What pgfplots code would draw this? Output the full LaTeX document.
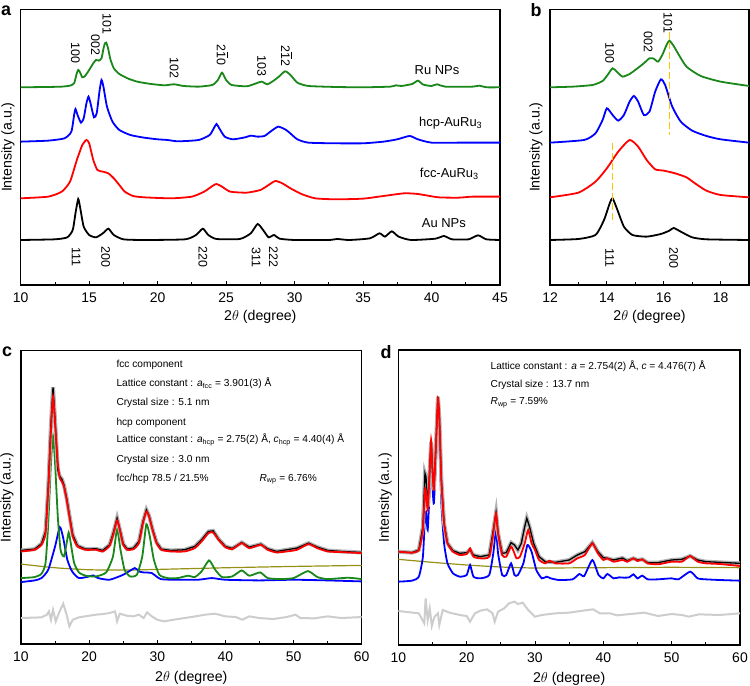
\documentclass[border=0pt]{standalone}
\usepackage{pgfplots}
\pgfplotsset{compat=1.18}
\usepackage{fontspec}
\setmainfont{Liberation Sans}
\definecolor{cgreen}{RGB}{25,135,25}
\definecolor{cblue}{RGB}{0,0,255}
\definecolor{cred}{RGB}{255,0,0}
\definecolor{colive}{RGB}{150,145,20}
\definecolor{cgold}{RGB}{255,195,0}
\definecolor{cgray}{RGB}{205,205,205}
\pgfplotsset{
  xrd/.style={scale only axis, anchor=south west,
    axis line style={line width=1.1bp},
    ytick=\empty, xtick pos=bottom, tick align=inside,
    major tick length=4bp, minor tick length=2.5bp,
    tick style={black,line width=0.8bp},
    /pgf/number format/assume math mode=true,
    ticklabel style={font=\fontsize{14}{16}\selectfont},
    xticklabel style={anchor=center, yshift=-12.5bp},
    label style={font=\fontsize{14.2}{16}\selectfont},
    xlabel={2$\theta$ (degree)}, ylabel={Intensity (a.u.)},
    xlabel style={at={(axis description cs:0.5,-0.116)}, anchor=center},
  },
  curve/.style={line width=1.8bp, smooth, tension=0.35, no marks},
}
\tikzset{
  pk/.style={rotate=-90, font=\fontsize{12.5}{14}\selectfont},
  nm/.style={font=\fontsize{13}{15}\selectfont},
  tx/.style={anchor=west, font=\fontsize{10.2}{12}\selectfont},
  lt/.style={font=\bfseries\fontsize{18}{20}\selectfont},
}
\begin{document}
\begin{tikzpicture}
\useasboundingbox (0,0) rectangle (750bp,686bp);
% ---------------- panel a
\begin{axis}[xrd, at={(20.7bp,401bp)}, width=479.3bp, height=275.7bp,
  xmin=10, xmax=45, ymin=-855, ymax=-28,
  xtick={10,15,...,45}, minor xtick={12.5,17.5,...,42.5},
  ylabel style={at={(axis description cs:-0.0265,0.5)}, anchor=center}]
\addplot[curve, cgreen] coordinates {(10,-262) (12,-261) (13,-260) (13.6,-257) (13.9,-250) (14.08,-222) (14.2,-210) (14.32,-216) (14.5,-232) (14.7,-228) (15.0,-210) (15.3,-190) (15.5,-180) (15.7,-182) (15.9,-175) (16.05,-145) (16.15,-130) (16.25,-128) (16.38,-145) (16.55,-178) (16.8,-205) (17.2,-222) (17.8,-235) (18.5,-245) (19.5,-252) (20.5,-256) (21.2,-253) (21.9,-258) (23,-260) (24,-255) (24.4,-240) (24.7,-218) (25.0,-240) (25.4,-255) (26.5,-259) (27.2,-250) (27.6,-245) (28.0,-253) (28.4,-244) (28.8,-232) (29.3,-214) (29.7,-225) (30.2,-248) (31,-258) (33,-261) (35,-262) (37,-260) (37.4,-256) (37.8,-258) (38.6,-252) (39.0,-242) (39.4,-254) (40.0,-258) (40.4,-253) (41,-260) (43,-260) (43.5,-257) (44,-262) (45,-262)};
\addplot[curve, cblue] coordinates {(10,-425) (12,-422) (13.2,-415) (13.7,-395) (13.9,-345) (14.0,-327) (14.15,-345) (14.4,-368) (14.6,-355) (14.8,-310) (14.95,-290) (15.1,-310) (15.35,-352) (15.55,-340) (15.75,-275) (15.9,-240) (16.05,-262) (16.3,-320) (16.7,-365) (17.2,-390) (18,-405) (19,-413) (20,-418) (20.7,-420) (21.5,-424) (23,-420) (23.8,-405) (24.1,-385) (24.3,-372) (24.5,-385) (24.9,-410) (25.5,-418) (26.4,-412) (26.8,-407) (27.3,-410) (27.8,-408) (28.3,-393) (28.8,-380) (29.3,-388) (29.6,-397) (30.2,-418) (31,-428) (33,-430) (35,-430) (36.5,-425) (37.5,-418) (38.4,-408) (39,-418) (40,-428) (42,-428) (45,-428)};
\addplot[curve, cred] coordinates {(10,-595) (12,-590) (13,-575) (13.6,-545) (14.1,-480) (14.5,-435) (14.8,-420) (15.0,-430) (15.3,-480) (15.6,-510) (16.0,-515) (16.4,-520) (16.8,-535) (17.2,-555) (17.6,-575) (18.2,-588) (19,-592) (21,-595) (22.5,-590) (23.4,-575) (24.0,-558) (24.3,-552) (24.7,-560) (25.3,-575) (26.5,-578) (27.5,-570) (28.1,-555) (28.6,-543) (29.1,-550) (29.7,-565) (30.5,-582) (31.5,-595) (33,-598) (35,-596) (36.5,-588) (38,-580) (39,-582) (40.5,-592) (42,-593) (43,-590) (45,-590)};
\addplot[curve, black] coordinates {(10,-720) (12.5,-718) (13.4,-712) (13.8,-690) (14.0,-640) (14.2,-597) (14.35,-625) (14.6,-680) (15.0,-705) (15.5,-712) (16.0,-700) (16.4,-686) (16.8,-705) (17.5,-718) (19,-720) (22,-718) (22.8,-705) (23.3,-686) (23.7,-705) (24.3,-717) (26,-717) (26.8,-700) (27.3,-672) (27.7,-690) (28.1,-712) (28.5,-705) (28.9,-716) (30,-720) (32.5,-720) (33.1,-717) (34,-720) (35.5,-715) (36.2,-700) (36.6,-710) (37.1,-694) (37.6,-710) (38.5,-720) (40.3,-716) (40.9,-708) (41.5,-718) (42.7,-718) (43.4,-706) (44,-718) (45,-720)};
\node[pk] at (axis cs:14.0,-160) {100};
\node[pk] at (axis cs:15.45,-135) {002};
\node[pk] at (axis cs:16.3,-72) {101};
\node[pk] at (axis cs:21.2,-205) {102};
\node[pk] at (axis cs:24.7,-165) {2$\overline{\mbox{1}}$0};
\node[pk] at (axis cs:27.6,-198) {103};
\node[pk] at (axis cs:29.4,-167) {2$\overline{\mbox{1}}$2};
\node[pk] at (axis cs:14.05,-772) {111};
\node[pk] at (axis cs:16.2,-772) {200};
\node[pk] at (axis cs:23.3,-772) {220};
\node[pk] at (axis cs:27.2,-772) {311};
\node[pk] at (axis cs:28.45,-772) {222};
\node[nm] at (axis cs:40.4,-210) {Ru NPs};
\node[nm] at (axis cs:41.4,-370) {hcp-AuRu\textsubscript{3}};
\node[nm] at (axis cs:41.3,-522) {fcc-AuRu\textsubscript{3}};
\node[nm] at (axis cs:40.9,-668) {Au NPs};
\end{axis}
% ---------------- panel b
\begin{axis}[xrd, at={(550bp,401bp)}, width=199bp, height=275.7bp,
  xmin=12, xmax=19, ymin=-855, ymax=-28,
  xtick={12,14,16,18}, minor xtick={13,15,17},
  ylabel style={at={(axis description cs:-0.07,0.5)}, anchor=center}]
\addplot[curve, cgreen] coordinates {(12,-262) (12.8,-260) (13.5,-255) (13.85,-243) (14.05,-222) (14.2,-205) (14.35,-215) (14.55,-230) (14.8,-222) (15.0,-210) (15.3,-190) (15.5,-175) (15.65,-176) (15.8,-185) (15.95,-165) (16.1,-135) (16.2,-122) (16.35,-138) (16.5,-160) (16.8,-200) (17.3,-228) (18,-245) (19,-258)};
\addplot[curve, cblue] coordinates {(12,-428) (13.2,-420) (13.6,-400) (13.85,-360) (14.0,-325) (14.2,-345) (14.4,-362) (14.6,-345) (14.8,-305) (14.95,-288) (15.1,-305) (15.3,-345) (15.5,-335) (15.7,-275) (15.9,-238) (16.05,-255) (16.3,-320) (16.6,-365) (17,-392) (17.5,-408) (18,-418) (19,-428)};
\addplot[curve, cred] coordinates {(12,-592) (13,-578) (13.6,-545) (14.0,-505) (14.4,-455) (14.8,-420) (15.1,-440) (15.4,-480) (15.7,-508) (16.0,-512) (16.4,-520) (16.8,-532) (17.1,-550) (17.5,-572) (18,-585) (19,-592)};
\addplot[curve, black] coordinates {(12,-720) (13,-717) (13.6,-705) (13.9,-660) (14.1,-610) (14.2,-595) (14.35,-625) (14.6,-680) (14.9,-705) (15.4,-710) (15.9,-702) (16.2,-692) (16.35,-684) (16.6,-695) (17,-712) (17.5,-718) (19,-720)};
\addplot[cgold, line width=1.8bp, dash pattern=on 7bp off 3bp, no marks] coordinates {(16.2,-95) (16.2,-405)};
\addplot[cgold, line width=1.8bp, dash pattern=on 7bp off 3bp, no marks] coordinates {(14.2,-430) (14.2,-670)};
\node[pk] at (axis cs:14.1,-160) {100};
\node[pk] at (axis cs:15.45,-125) {002};
\node[pk] at (axis cs:16.15,-68) {101};
\node[pk] at (axis cs:14.1,-775) {111};
\node[pk] at (axis cs:16.35,-775) {200};
\end{axis}
% ---------------- panel c
\begin{axis}[xrd, at={(21bp,42bp)}, width=340.7bp, height=293.3bp,
  xmin=10, xmax=60, ymin=-943, ymax=-62,
  xtick={10,20,...,60}, minor xtick={15,25,...,55},
  ylabel style={at={(axis description cs:-0.041,0.5)}, anchor=center}]
\addplot[cgray, line width=2bp, no marks] coordinates {(10,-865) (13,-863) (13.8,-855) (14.1,-845) (14.4,-870) (14.7,-840) (15.1,-875) (15.6,-848) (16.2,-822) (16.7,-855) (17.1,-890) (17.6,-870) (18.5,-863) (20,-858) (21,-855) (22,-853) (23,-850) (23.8,-845) (24.1,-875) (24.5,-852) (25.5,-858) (26.5,-860) (27.3,-855) (28,-865) (28.5,-848) (29.2,-860) (30,-870) (31,-875) (33,-868) (35,-862) (37,-855) (38.5,-852) (40,-860) (41.5,-862) (42.5,-870) (43.5,-860) (45,-865) (47,-868) (49,-862) (50.3,-855) (51,-865) (53,-866) (55,-860) (57,-865) (60,-862)};
\addplot[curve, colive, line width=1.2bp] coordinates {(10,-703) (15,-714) (20,-720) (25,-721) (30,-719) (40,-714) (50,-710) (60,-707)};
\addplot[curve, cblue] coordinates {(10,-757) (12,-752) (13,-745) (14,-720) (15,-650) (15.7,-592) (16.2,-625) (16.8,-690) (17.5,-725) (18.5,-745) (20,-740) (20.6,-737) (21.3,-745) (23,-750) (25,-735) (26.7,-715) (27.3,-725) (28,-728) (29.2,-730) (30.5,-748) (33,-750) (36,-750) (38,-745) (40,-750) (45,-752) (50,-750) (55,-752) (60,-755)};
\addplot[curve, cgreen] coordinates {(10,-745) (12,-742) (13,-732) (13.6,-700) (14.0,-580) (14.4,-400) (14.7,-318) (15.0,-400) (15.4,-560) (15.8,-660) (16.3,-680) (16.7,-640) (17.0,-608) (17.3,-640) (17.8,-700) (18.5,-728) (19.5,-738) (21,-740) (22.5,-728) (23.5,-680) (24.1,-598) (24.6,-660) (25.2,-720) (26,-740) (27,-735) (27.8,-680) (28.4,-583) (28.9,-620) (29.5,-690) (30.3,-735) (31.5,-745) (33,-745) (34.5,-738) (35.5,-742) (36.5,-725) (37.6,-692) (38.5,-720) (39.5,-742) (41,-740) (42.4,-722) (43.5,-738) (45.1,-728) (46.2,-745) (48,-748) (50,-745) (52.1,-724) (53.5,-742) (55,-748) (58,-744) (60,-748)};
\addplot[gray!60, line width=4bp, no marks] coordinates {(10,-662) (12,-658) (13,-642) (13.6,-605) (14.0,-470) (14.4,-280) (14.7,-172) (15.0,-270) (15.4,-420) (15.7,-440) (16.0,-448) (16.3,-465) (16.7,-505) (17.1,-555) (17.6,-615) (18.3,-648) (19.5,-658) (21,-657) (22,-662) (23,-645) (23.6,-605) (24.1,-565) (24.5,-598) (25,-642) (25.6,-658) (26.5,-655) (27.3,-635) (27.9,-575) (28.4,-540) (28.8,-558) (29.3,-598) (29.9,-638) (30.6,-658) (32,-662) (34,-660) (35.5,-650) (36.5,-630) (37.5,-605) (38.2,-603) (39,-628) (40,-650) (41,-656) (42.4,-638) (43.5,-652) (45.2,-643) (46.2,-657) (47.5,-665) (49,-660) (50.5,-655) (52.2,-640) (53.5,-652) (55,-662) (57,-665) (60,-668)};
\addplot[black, line width=1.3bp, no marks] coordinates {(10,-662) (12,-658) (13,-642) (13.6,-605) (14.0,-470) (14.4,-280) (14.7,-172) (15.0,-270) (15.4,-420) (15.7,-440) (16.0,-448) (16.3,-465) (16.7,-505) (17.1,-555) (17.6,-615) (18.3,-648) (19.5,-658) (21,-657) (22,-662) (23,-645) (23.6,-605) (24.1,-565) (24.5,-598) (25,-642) (25.6,-658) (26.5,-655) (27.3,-635) (27.9,-575) (28.4,-540) (28.8,-558) (29.3,-598) (29.9,-638) (30.6,-658) (32,-662) (34,-660) (35.5,-650) (36.5,-630) (37.5,-605) (38.2,-603) (39,-628) (40,-650) (41,-656) (42.4,-638) (43.5,-652) (45.2,-643) (46.2,-657) (47.5,-665) (49,-660) (50.5,-655) (52.2,-640) (53.5,-652) (55,-662) (57,-665) (60,-668)};
\addplot[curve, cred] coordinates {(10,-665) (12,-660) (13,-645) (13.6,-610) (14.0,-480) (14.4,-300) (14.7,-200) (15.0,-280) (15.4,-400) (15.7,-445) (16.0,-455) (16.3,-470) (16.7,-510) (17.1,-560) (17.6,-620) (18.3,-650) (19.5,-660) (21,-660) (22,-665) (23,-648) (23.6,-610) (24.1,-572) (24.5,-600) (25.0,-645) (25.6,-660) (26.5,-658) (27.3,-640) (27.9,-580) (28.4,-545) (28.8,-560) (29.3,-600) (29.9,-640) (30.6,-660) (32,-665) (34,-665) (35.5,-655) (36.5,-635) (37.5,-610) (38.2,-608) (39.0,-630) (40,-652) (41,-658) (42.4,-640) (43.5,-655) (45.2,-645) (46.2,-660) (47.5,-668) (49,-665) (50.5,-660) (52.2,-643) (53.5,-655) (55,-665) (57,-667) (60,-670)};
\node[tx] at (axis cs:23.5,-105) {fcc component};
\node[tx] at (axis cs:23.5,-160) {Lattice constant : \textit{a}\textsubscript{fcc} = 3.901(3) Å};
\node[tx] at (axis cs:23.5,-218) {Crystal size : 5.1 nm};
\node[tx] at (axis cs:23.5,-278) {hcp component};
\node[tx] at (axis cs:23.5,-330) {Lattice constant : \textit{a}\textsubscript{hcp} = 2.75(2) Å, \textit{c}\textsubscript{hcp} = 4.40(4) Å};
\node[tx] at (axis cs:23.5,-390) {Crystal size : 3.0 nm};
\node[tx] at (axis cs:23.5,-448) {fcc/hcp 78.5 / 21.5\%};
\node[tx] at (axis cs:44.5,-448) {\textit{R}\textsubscript{wp} = 6.76\%};
\end{axis}
% ---------------- panel d
\begin{axis}[xrd, at={(398.3bp,41bp)}, width=341.7bp, height=295bp,
  xmin=10, xmax=60, ymin=-945, ymax=-60,
  xtick={10,20,...,60}, minor xtick={15,25,...,55},
  ylabel style={at={(axis description cs:-0.038,0.5)}, anchor=center}]
\addplot[cgray, line width=2bp, no marks] coordinates {(10,-843) (13,-850) (13.8,-880) (14.0,-805) (14.3,-870) (14.6,-835) (14.9,-888) (15.3,-860) (15.8,-850) (16.0,-885) (16.5,-840) (17.5,-848) (19,-855) (20,-858) (20.5,-875) (21.2,-850) (22,-842) (23,-838) (23.8,-850) (24.1,-875) (24.6,-845) (25.5,-835) (26.2,-820) (27.0,-815) (27.5,-822) (28.2,-818) (29,-840) (30,-860) (31,-855) (33,-850) (35,-848) (37,-842) (38.5,-838) (39.5,-850) (41,-850) (42,-856) (44,-852) (46,-848) (48,-858) (50,-852) (51.5,-855) (52.5,-860) (54,-853) (57,-855) (60,-850)};
\addplot[curve, colive, line width=1.2bp] coordinates {(10,-688) (15,-697) (20,-705) (25,-711) (30,-714) (40,-713) (50,-712) (60,-713)};
\addplot[curve, cblue] coordinates {(10,-755) (12,-752) (13,-740) (13.6,-680) (13.9,-560) (14.05,-545) (14.3,-600) (14.55,-500) (14.8,-390) (15.0,-470) (15.2,-520) (15.5,-400) (15.8,-260) (16.0,-320) (16.3,-520) (16.7,-640) (17.2,-700) (18,-730) (19,-740) (20,-735) (20.5,-705) (21,-740) (22,-745) (23.3,-735) (23.9,-670) (24.3,-600) (24.6,-670) (25.2,-735) (25.8,-735) (26.5,-700) (27.0,-735) (27.5,-735) (28.3,-700) (28.9,-645) (29.5,-665) (30.2,-720) (31,-745) (31.7,-740) (32.3,-745) (33.5,-750) (35.5,-748) (36.5,-732) (37.2,-738) (38.4,-690) (39.3,-735) (40,-745) (40.6,-732) (41.5,-745) (42.3,-742) (43,-743) (43.8,-742) (44.4,-733) (45,-745) (45.7,-737) (46.5,-748) (48,-748) (50,-745) (51,-748) (52.7,-725) (53.8,-745) (55,-748) (57,-750) (60,-752)};
\addplot[gray!60, line width=4bp, no marks] coordinates {(10,-665) (12,-668) (13,-660) (13.6,-590) (13.9,-430) (14.05,-440) (14.3,-530) (14.55,-440) (14.8,-335) (15.0,-420) (15.2,-480) (15.5,-350) (15.8,-200) (16.0,-260) (16.3,-450) (16.7,-580) (17.2,-640) (18,-662) (19,-670) (20,-668) (20.5,-660) (21,-675) (22,-680) (23.3,-675) (23.9,-600) (24.3,-548) (24.6,-610) (25.2,-670) (25.8,-668) (26.5,-638) (27.0,-645) (27.5,-660) (28.0,-640) (28.5,-590) (28.8,-565) (29.2,-590) (29.8,-640) (30.6,-680) (31.5,-695) (33,-697) (35,-690) (36.2,-675) (37.3,-665) (38.4,-638) (39.2,-665) (40,-683) (40.6,-685) (41.5,-690) (42.8,-684) (43.5,-692) (44.4,-685) (45,-690) (45.7,-688) (46.5,-698) (48,-698) (50,-690) (51.5,-688) (52.7,-678) (53.8,-690) (55,-695) (57,-697) (60,-700)};
\addplot[black, line width=1.3bp, no marks] coordinates {(10,-665) (12,-668) (13,-660) (13.6,-590) (13.9,-430) (14.05,-440) (14.3,-530) (14.55,-440) (14.8,-335) (15.0,-420) (15.2,-480) (15.5,-350) (15.8,-200) (16.0,-260) (16.3,-450) (16.7,-580) (17.2,-640) (18,-662) (19,-670) (20,-668) (20.5,-660) (21,-675) (22,-680) (23.3,-675) (23.9,-600) (24.3,-548) (24.6,-610) (25.2,-670) (25.8,-668) (26.5,-638) (27.0,-645) (27.5,-660) (28.0,-640) (28.5,-590) (28.8,-565) (29.2,-590) (29.8,-640) (30.6,-680) (31.5,-695) (33,-697) (35,-690) (36.2,-675) (37.3,-665) (38.4,-638) (39.2,-665) (40,-683) (40.6,-685) (41.5,-690) (42.8,-684) (43.5,-692) (44.4,-685) (45,-690) (45.7,-688) (46.5,-698) (48,-698) (50,-690) (51.5,-688) (52.7,-678) (53.8,-690) (55,-695) (57,-697) (60,-700)};
\addplot[curve, cred] coordinates {(10,-665) (12,-668) (13,-660) (13.6,-600) (13.9,-480) (14.05,-485) (14.3,-540) (14.55,-440) (14.8,-330) (15.0,-420) (15.2,-480) (15.5,-350) (15.8,-205) (16.0,-260) (16.3,-450) (16.7,-580) (17.2,-640) (18,-665) (19,-675) (20,-672) (20.5,-655) (21,-680) (22,-685) (23.3,-680) (23.9,-610) (24.3,-550) (24.6,-610) (25.2,-675) (25.8,-680) (26.5,-650) (26.9,-665) (27.3,-685) (27.8,-680) (28.5,-640) (29.0,-600) (29.5,-640) (30.0,-660) (30.6,-690) (31.5,-700) (32.1,-692) (33,-700) (35,-700) (36.2,-685) (37.3,-675) (38.4,-640) (39.2,-670) (40,-690) (40.6,-685) (41.5,-695) (42.8,-690) (43.5,-695) (44.4,-685) (45,-693) (45.7,-688) (46.5,-700) (48,-703) (50,-695) (51.5,-695) (52.7,-678) (53.8,-695) (55,-700) (57,-702) (60,-708)};
\node[tx] at (axis cs:23.0,-108) {Lattice constant : \textit{a} = 2.754(2) Å, \textit{c} = 4.476(7) Å};
\node[tx] at (axis cs:23.0,-165) {Crystal size : 13.7 nm};
\node[tx] at (axis cs:23.0,-218) {\textit{R}\textsubscript{wp} = 7.59\%};
\end{axis}
\node[lt] at (6bp,675bp) {a};
\node[lt] at (536bp,676bp) {b};
\node[lt] at (7bp,334bp) {c};
\node[lt] at (386bp,334bp) {d};
\end{tikzpicture}
\end{document}
